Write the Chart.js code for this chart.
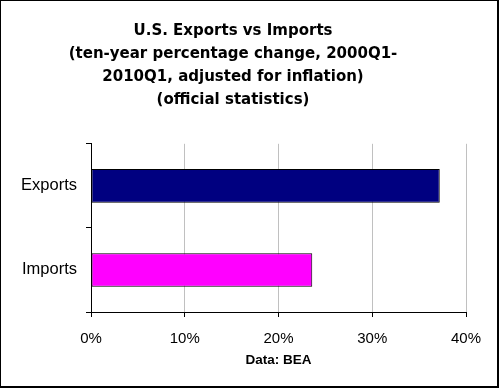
<!DOCTYPE html>
<html>
<head>
<meta charset="utf-8">
<script src="https://cdn.jsdelivr.net/npm/chart.js@4"></script>
<style>
  html, body { margin: 0; padding: 0; background: #fff; }
  #wrap { width: 499px; height: 388px; }
</style>
</head>
<body>
<div id="wrap"><canvas id="grafico" width="499" height="388"></canvas></div>
<script>
const categorias = ['Exports', 'Imports'];
const variacao = [37.2, 23.6];
const cores = ['#000080', '#FF00FF'];
const tituloLinhas = [
    'U.S. Exports vs Imports',
    '(ten-year percentage change, 2000Q1-',
    '2010Q1, adjusted for inflation)',
    '(official statistics)'
];
const fonteDados = 'Data: BEA';

// moldura preta em volta da figura
const moldura = {
    id: 'moldura',
    afterDraw(chart) {
        const ctx = chart.ctx;
        ctx.save();
        ctx.fillStyle = '#000';
        ctx.fillRect(0, 0, 499, 1);
        ctx.fillRect(0, 0, 1, 388);
        ctx.fillRect(497, 0, 2, 388);
        ctx.fillRect(0, 386, 499, 2);
        ctx.restore();
    }
};

new Chart(document.getElementById('grafico'), {
    type: 'bar',
    data: {
        labels: categorias,
        datasets: [{
            data: variacao,
            backgroundColor: cores,
            borderColor: '#000',
            borderWidth: 1,
            borderSkipped: false,
            barPercentage: 0.4,
            categoryPercentage: 1
        }]
    },
    options: {
        indexAxis: 'y',
        responsive: false,
        animation: false,
        layout: { padding: { left: 0, right: 33, top: 0, bottom: 20 } },
        plugins: {
            legend: { display: false },
            tooltip: { enabled: false },
            title: {
                display: true,
                text: tituloLinhas,
                color: '#000',
                font: { family: 'DejaVu Sans', size: 15, weight: 'bold', lineHeight: 1.53 },
                padding: { top: 20, bottom: 32 }
            }
        },
        scales: {
            x: {
                min: 0,
                max: 40,
                afterFit(scale) { scale.height = 56; },
                ticks: {
                    stepSize: 10,
                    color: '#000',
                    padding: 13,
                    font: { family: 'Liberation Sans', size: 15 },
                    callback: v => v + '%'
                },
                grid: { color: '#c0c0c0', tickColor: '#000', tickLength: 5 },
                border: { color: '#000', width: 1 },
                title: {
                    display: true,
                    text: fonteDados,
                    color: '#000',
                    font: { family: 'Liberation Sans', size: 13.5, weight: 'bold' },
                    padding: { top: 7, bottom: 0 }
                }
            },
            y: {
                afterFit(scale) { scale.width = 91; },
                ticks: {
                    color: '#000',
                    padding: 9,
                    font: { family: 'Liberation Sans', size: 16.5 }
                },
                grid: { drawOnChartArea: false, offset: true, tickColor: '#000', tickLength: 5 },
                border: { color: '#000', width: 1 }
            }
        }
    },
    plugins: [moldura]
});
</script>
</body>
</html>
